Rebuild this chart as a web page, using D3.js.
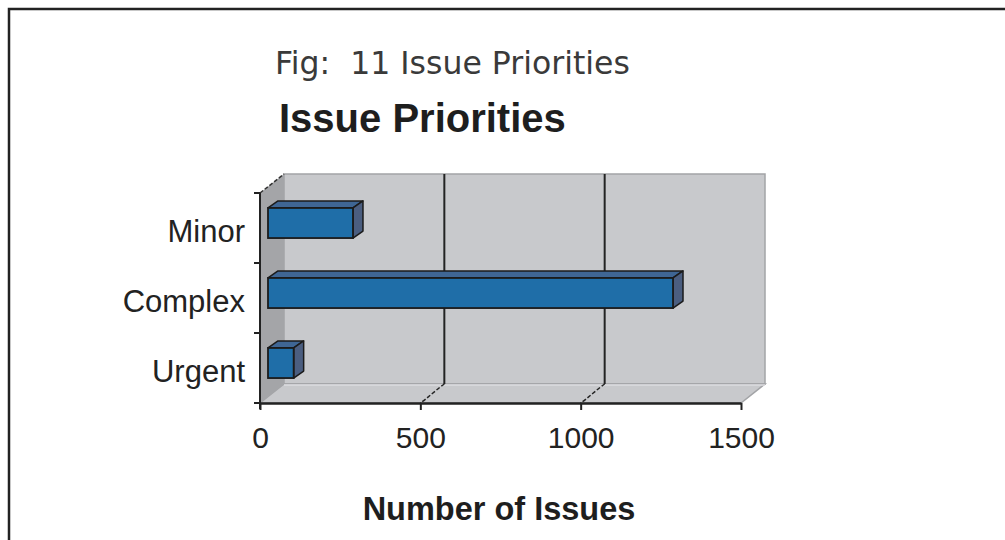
<!DOCTYPE html>
<html>
<head>
<meta charset="utf-8">
<script src="https://cdn.jsdelivr.net/npm/d3@7"></script>
<style>
  html, body { margin: 0; padding: 0; background: #fff; }
  svg { display: block; }
</style>
</head>
<body>
<svg id="chart" width="1005" height="540"></svg>
<script>
// Issue counts per priority
const categories = ["Minor", "Complex", "Urgent"];
const issueCounts = [265, 1263, 80];
const xTicks = [0, 500, 1000, 1500];

const figTitle = "Fig:  11 Issue Priorities";
const chartTitle = "Issue Priorities";
const xAxisTitle = "Number of Issues";

const svg = d3.select("#chart");

// Front plane of the 3D plot box
const plot = { left: 260, right: 741, top: 193, bottom: 403 };
// Offset of the back wall relative to the front plane
const depth = { dx: 24, dy: -19 };
// Offset of the bars' front face and the bars' own depth
const barFront = { dx: 8, dy: -5 };
const barDepth = { dx: 10, dy: -7 };

const x = d3.scaleLinear().domain([0, 1500]).range([plot.left, plot.right]);
const y = d3.scaleBand().domain(categories).range([plot.top, plot.bottom]).paddingInner(0.57).paddingOuter(0.285);
const band = d3.scaleBand().domain(categories).range([plot.top, plot.bottom]);

// Outer frame
svg.append("path")
  .attr("d", "M9,540 L9,9 L1005,9")
  .attr("fill", "none").attr("stroke", "#222").attr("stroke-width", 2.5);

// Titles
svg.append("text").text(figTitle)
  .attr("x", 275).attr("y", 74)
  .attr("font-family", "DejaVu Sans").attr("font-size", 31.5)
  .attr("fill", "#3a3a3a").style("white-space", "pre");

svg.append("text").text(chartTitle)
  .attr("x", 279).attr("y", 132)
  .attr("font-family", "Liberation Sans, Arial").attr("font-weight", "bold").attr("font-size", 40)
  .attr("fill", "#1e1e1e");

const pts = a => a.map(p => p.join(",")).join(" ");
const L = plot.left, R = plot.right, T = plot.top, B = plot.bottom;
const dx = depth.dx, dy = depth.dy;

// Back wall
svg.append("rect")
  .attr("x", L + dx).attr("y", T + dy)
  .attr("width", R - L).attr("height", B - T)
  .attr("fill", "#c8c9cc").attr("stroke", "#a3a4a7").attr("stroke-width", 1.5);

// Floor
svg.append("polygon")
  .attr("points", pts([[L, B], [L + dx, B + dy], [R + dx, B + dy], [R, B]]))
  .attr("fill", "#c8c9cc").attr("stroke", "#a3a4a7").attr("stroke-width", 1.5);
svg.append("line")
  .attr("x1", L + dx).attr("x2", R + dx).attr("y1", B + dy + 1).attr("y2", B + dy + 1)
  .attr("stroke", "#dcdde0").attr("stroke-width", 1.5);

// Side wall
svg.append("polygon")
  .attr("points", pts([[L, T], [L + dx, T + dy], [L + dx, B + dy], [L, B]]))
  .attr("fill", "#a4a5a8");

// Gridlines on the back wall, joined to the front axis across the floor
const inner = xTicks.filter(t => t > 0 && t < 1500);
svg.selectAll("line.grid").data(inner).join("line").attr("class", "grid")
  .attr("x1", d => x(d) + dx).attr("x2", d => x(d) + dx)
  .attr("y1", T + dy).attr("y2", B + dy)
  .attr("stroke", "#232323").attr("stroke-width", 2);
svg.selectAll("path.floorGrid").data(inner).join("path").attr("class", "floorGrid")
  .attr("d", d => `M${x(d) + dx},${B + dy} C${x(d) + dx - 6},${B + dy + 4} ${x(d) + 6},${B - 4} ${x(d)},${B}`)
  .attr("fill", "none").attr("stroke", "#232323").attr("stroke-width", 1.5)
  .attr("stroke-dasharray", "4,2");

// Dashed top edge of the side wall
svg.append("line")
  .attr("x1", L).attr("y1", T).attr("x2", L + dx).attr("y2", T + dy)
  .attr("stroke", "#333").attr("stroke-width", 1.5).attr("stroke-dasharray", "4,2");

// Bars (front, top and side faces)
const bars = categories.map((c, i) => ({ c, v: issueCounts[i] }));
const g = svg.append("g");
bars.forEach(d => {
  const x0 = x(0) + barFront.dx, x1 = x(d.v) + barFront.dx;
  const y0 = y(d.c) + barFront.dy, h = y.bandwidth();
  const bx = barDepth.dx, by = barDepth.dy;
  g.append("polygon")
    .attr("points", pts([[x0, y0], [x0 + bx, y0 + by], [x1 + bx, y0 + by], [x1, y0]]))
    .attr("fill", "#3f6694").attr("stroke", "#1b1b1b").attr("stroke-width", 1.5).attr("stroke-linejoin", "round");
  g.append("polygon")
    .attr("points", pts([[x1, y0], [x1 + bx, y0 + by], [x1 + bx, y0 + h + by], [x1, y0 + h]]))
    .attr("fill", "#4b5e80").attr("stroke", "#1b1b1b").attr("stroke-width", 1.5).attr("stroke-linejoin", "round");
  g.append("rect")
    .attr("x", x0).attr("y", y0).attr("width", x1 - x0).attr("height", h)
    .attr("fill", "#1f6ea8").attr("stroke", "#1b1b1b").attr("stroke-width", 1.8);
});

// Category axis
svg.append("line")
  .attr("x1", L).attr("x2", L).attr("y1", T).attr("y2", B + 6)
  .attr("stroke", "#222").attr("stroke-width", 2);
const yTickPos = categories.map(c => band(c)).concat([B]);
svg.selectAll("line.ytick").data(yTickPos).join("line").attr("class", "ytick")
  .attr("x1", L - 6).attr("x2", L).attr("y1", d => d).attr("y2", d => d)
  .attr("stroke", "#222").attr("stroke-width", 2);
svg.selectAll("text.ylab").data(categories).join("text").attr("class", "ylab")
  .attr("x", 245).attr("y", d => band(d) + band.bandwidth() / 2 + 14)
  .attr("text-anchor", "end")
  .attr("font-family", "Liberation Sans, Arial").attr("font-size", 31)
  .attr("fill", "#222").text(d => d);

// Value axis
const xAxis = svg.append("g").attr("transform", `translate(0,${B})`)
  .call(d3.axisBottom(x).tickValues(xTicks).tickSize(7).tickSizeOuter(0).tickPadding(17).tickFormat(d3.format("d")));
xAxis.select(".domain").attr("stroke", "#222").attr("stroke-width", 2.5);
xAxis.selectAll(".tick line").attr("stroke", "#222").attr("stroke-width", 2);
xAxis.selectAll(".tick text")
  .attr("font-family", "Liberation Sans, Arial").attr("font-size", 30)
  .attr("fill", "#222");

svg.append("text").text(xAxisTitle)
  .attr("x", 499).attr("y", 520).attr("text-anchor", "middle")
  .attr("font-family", "Liberation Sans, Arial").attr("font-weight", "bold").attr("font-size", 32.5)
  .attr("fill", "#1e1e1e");
</script>
</body>
</html>
